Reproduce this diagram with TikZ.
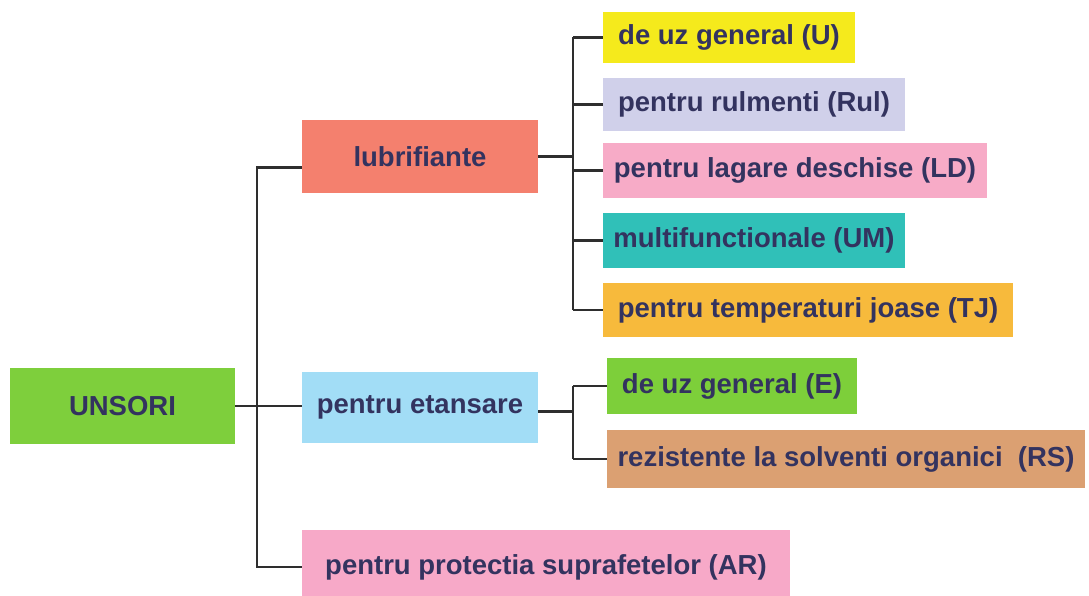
\documentclass[tikz,border=0pt]{standalone}
\usepackage{fontspec}
\setmainfont{Liberation Sans}
\definecolor{txt}{HTML}{33335F}
\definecolor{cRoot}{HTML}{7ECF3C}
\definecolor{cLub}{HTML}{F4806E}
\definecolor{cEta}{HTML}{A2DDF6}
\definecolor{cAR}{HTML}{F7A9C8}
\definecolor{cU}{HTML}{F5EA1C}
\definecolor{cRul}{HTML}{D0D0EA}
\definecolor{cLD}{HTML}{F7ABC7}
\definecolor{cUM}{HTML}{30C0B8}
\definecolor{cTJ}{HTML}{F7BA3C}
\definecolor{cE}{HTML}{7DCF3A}
\definecolor{cRS}{HTML}{DBA072}
\definecolor{ln}{HTML}{2E2E2E}
\tikzset{
  box/.style={fill=#1, draw=none, text=txt, inner sep=0pt,
    font=\fontsize{27.5}{30}\selectfont\bfseries},
  wire/.style={draw=ln, line width=2.2pt}
}
\begin{document}
\begin{tikzpicture}[x=1pt,y=-1pt]
\useasboundingbox (0,0) rectangle (1089,596);
\clip (0,0) rectangle (1089,596);
\fill[white] (0,0) rectangle (1089,596);
\node[box=cRoot, minimum width=225pt, minimum height=76pt] (root) at (122.5,406) {UNSORI};
\node[box=cLub, minimum width=236pt, minimum height=73pt] (lub) at (420,156.5) {lubrifiante};
\node[box=cEta, minimum width=236pt, minimum height=71pt] (eta) at (420,407.5) {pentru etansare};
\node[box=cAR, minimum width=488pt, minimum height=74pt] (ar) at (546,567) {pentru protectia suprafetelor (AR)};
\node[box=cU, minimum width=252pt, minimum height=51pt] (u) at (729,37.5) {de uz general (U)};
\node[box=cRul, minimum width=302pt, minimum height=53pt] (rul) at (754,104.5) {pentru rulmenti (Rul)};
\node[box=cLD, minimum width=384pt, minimum height=55pt] (ld) at (795,170.5) {pentru lagare deschise (LD)};
\node[box=cUM, minimum width=302pt, minimum height=55pt] (um) at (754,240.5) {multifunctionale (UM)};
\node[box=cTJ, minimum width=410pt, minimum height=54pt] (tj) at (808,310) {pentru temperaturi joase (TJ)};
\node[box=cE, minimum width=250pt, minimum height=56pt] (e) at (732,386) {de uz general (E)};
\node[box=cRS, minimum width=478pt, minimum height=58pt] (rs) at (846,459) {rezistente la solventi organici\ \ (RS)};
\coordinate (t) at (257,0);
\coordinate (l) at (573,0);
% main trunk
\draw[wire] ([yshift=-11pt]lub.west) -| (t |- ar.west) -- (ar.west);
\draw[wire] (root.east) -- (root.east -| eta.west);
% lubrifiante branch
\draw[wire] (lub.east) -- (lub.east -| l);
\draw[wire] (l |- u.west) -- (l |- tj.west);
\foreach \n in {u,rul,ld,um,tj} \draw[wire] (l |- \n.west) -- (\n.west);
% etansare branch
\draw[wire] ([yshift=-4pt]eta.east) -- ([yshift=-4pt]eta.east -| l);
\draw[wire] (l |- e.west) -- (l |- rs.west);
\foreach \n in {e,rs} \draw[wire] (l |- \n.west) -- (\n.west);
\end{tikzpicture}
\end{document}
